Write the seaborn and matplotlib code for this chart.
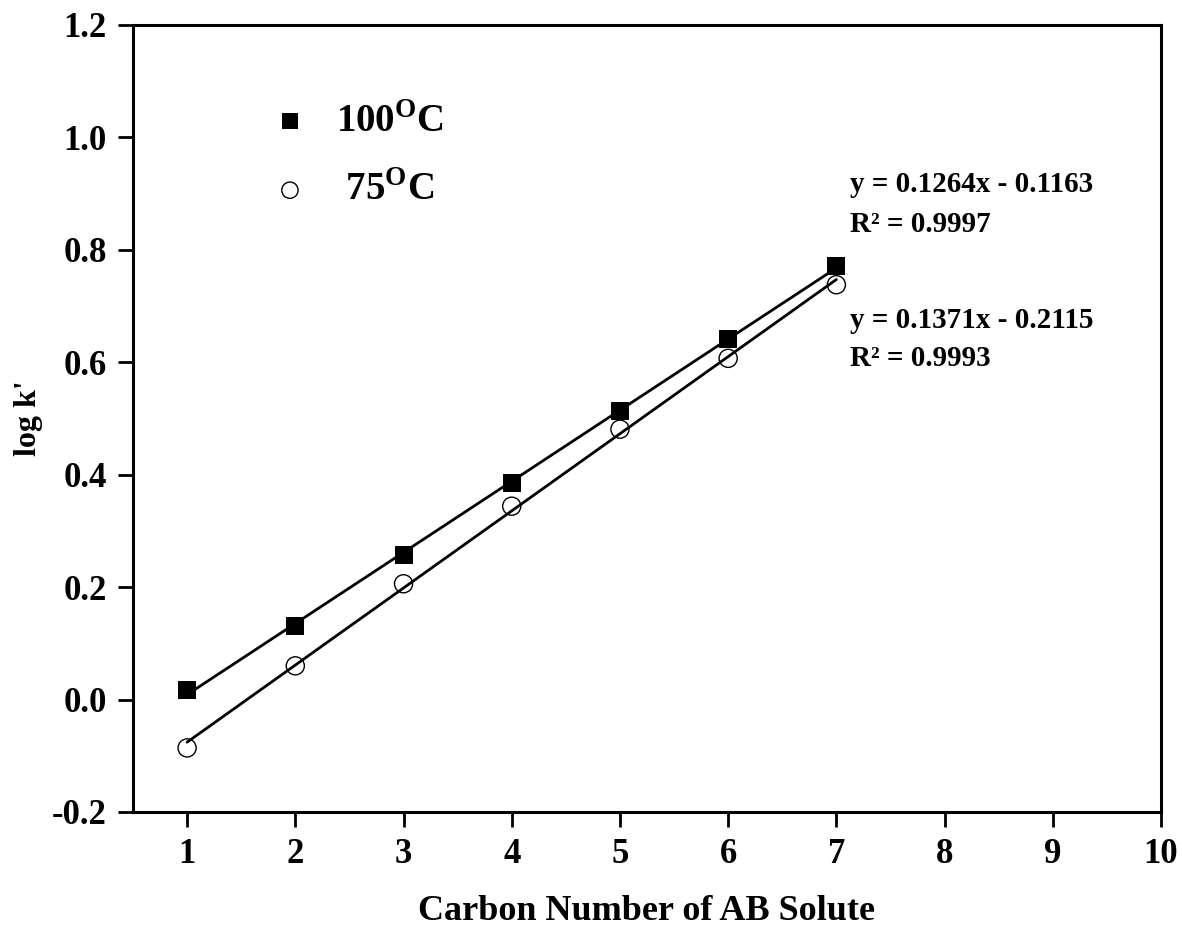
import numpy as np
import pandas as pd
import matplotlib
matplotlib.use("Agg")
import matplotlib.pyplot as plt
import seaborn as sns

# ---- data ----
carbon = [1, 2, 3, 4, 5, 6, 7]
logk_100 = [0.017, 0.131, 0.257, 0.386, 0.514, 0.641, 0.772]
logk_75 = [-0.086, 0.060, 0.206, 0.344, 0.481, 0.607, 0.738]
series_labels = ["100$^{\\mathbf{O}}$C", " 75$^{\\mathbf{O}}$C"]
eq_100 = ["y = 0.1264x - 0.1163", "R² = 0.9997"]
eq_75 = ["y = 0.1371x - 0.2115", "R² = 0.9993"]
xticks = [1, 2, 3, 4, 5, 6, 7, 8, 9, 10]
yticks = [-0.2, 0.0, 0.2, 0.4, 0.6, 0.8, 1.0, 1.2]

sns.set_style("ticks")
plt.rcParams["font.family"] = ["Liberation Serif", "DejaVu Serif"]
plt.rcParams["font.weight"] = "bold"
plt.rcParams["axes.labelweight"] = "bold"
plt.rcParams["axes.unicode_minus"] = False
plt.rcParams["mathtext.fontset"] = "custom"
plt.rcParams["mathtext.rm"] = "Liberation Serif:bold"
plt.rcParams["mathtext.bf"] = "Liberation Serif:bold"
for key in ["text.color", "axes.labelcolor", "xtick.color", "ytick.color", "axes.edgecolor"]:
    plt.rcParams[key] = "black"

df100 = pd.DataFrame({"x": carbon, "y": logk_100})
df75 = pd.DataFrame({"x": carbon, "y": logk_75})

fig = plt.figure(figsize=(11.82, 9.32), dpi=100)
ax = fig.add_axes([133 / 1182, 1 - 812 / 932, (1161 - 133) / 1182, (812 - 25) / 932])

line_kws = dict(color="black", lw=2.0, zorder=2)
sns.regplot(data=df100, x="x", y="y", scatter=False, ci=None, truncate=True, line_kws=line_kws, ax=ax)
sns.regplot(data=df75, x="x", y="y", scatter=False, ci=None, truncate=True, line_kws=line_kws, ax=ax)

h1 = ax.scatter(df100["x"], df100["y"], marker="s", s=150, color="black", linewidths=0, zorder=3)
h2 = ax.scatter(df75["x"], df75["y"], marker="o", s=170, facecolors="none", edgecolors="black",
                linewidths=1.0, zorder=3)

ax.set_xlim(0.5, 10)
ax.set_ylim(-0.2, 1.2)
ax.set_xticks(xticks)
ax.set_xticklabels([str(t) for t in xticks])
ax.set_yticks(yticks)
ax.set_yticklabels([f"{t:.1f}" for t in yticks])
ax.tick_params(axis="both", direction="out", length=11, width=2, labelsize=25, pad=8,
               colors="black")
for lab in ax.get_xticklabels() + ax.get_yticklabels():
    lab.set_fontweight("bold")
for sp in ax.spines.values():
    sp.set_linewidth(2.2)
    sp.set_color("black")

ax.set_xlabel("Carbon Number of AB Solute", fontsize=26, fontweight="bold", labelpad=17)
ax.set_ylabel("log k'", fontsize=23, fontweight="bold")
ax.yaxis.set_label_coords(-0.0875, 0.5)

leg = ax.legend([h1, h2], series_labels, loc="upper left", bbox_to_anchor=(0.1186, 0.92),
                frameon=False, fontsize=28, handlelength=1.0, handletextpad=0.68,
                labelspacing=0.82, markerscale=0.9, borderaxespad=0)
for t in leg.get_texts():
    t.set_fontweight("bold")
    t.set_color("black")

fs = 21
ax.text(7.13, 0.9155, eq_100[0], fontsize=fs, fontweight="bold", va="center", ha="left")
ax.text(7.13, 0.845, eq_100[1], fontsize=fs, fontweight="bold", va="center", ha="left")
ax.text(7.13, 0.675, eq_75[0], fontsize=fs, fontweight="bold", va="center", ha="left")
ax.text(7.13, 0.607, eq_75[1], fontsize=fs, fontweight="bold", va="center", ha="left")

ax.set_facecolor("white")
fig.patch.set_facecolor("white")
fig.savefig("out.png", dpi=100)
